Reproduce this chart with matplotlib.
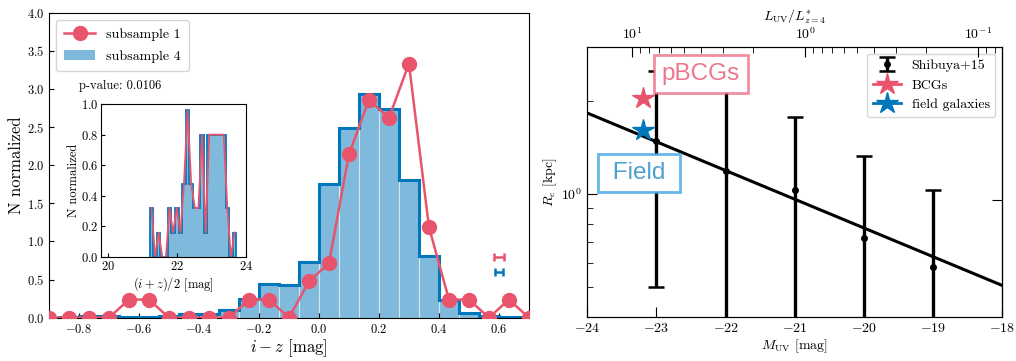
import numpy as np
import matplotlib
matplotlib.use('Agg')
import matplotlib.pyplot as plt
from matplotlib.patches import Patch
from matplotlib.lines import Line2D
from matplotlib.colors import to_rgba
from matplotlib.ticker import NullLocator, NullFormatter, MultipleLocator

plt.rcParams['font.family'] = 'serif'
plt.rcParams['font.serif'] = ['cmr10']
plt.rcParams['mathtext.fontset'] = 'cm'
plt.rcParams['axes.formatter.use_mathtext'] = True
plt.rcParams['axes.unicode_minus'] = True

RED = '#E9546D'
BLUE = '#0077BB'

# ---------------- data: left panel ----------------
# i-z histogram bin edges (bin width 1/15 mag)
iz_edges = np.arange(-14, 12) / 15.0
sub4_vals = [0.0, 0.005, 0.025, 0.02, 0.012, 0.012, 0.02, 0.05, 0.05, 0.10,
             0.25, 0.44, 0.43, 0.73, 1.76, 2.49, 2.93, 2.74, 1.81, 0.81,
             0.23, 0.06, 0.02, 0.01, 0.005]
sub1_vals = [0, 0, 0, 0, 0.238, 0.238, 0, 0, 0, 0,
             0.238, 0.238, 0, 0.476, 0.714, 2.143, 2.857, 2.619, 3.333, 1.190,
             0.238, 0.238, 0, 0.238, 0]
pvalue_text = 'p-value: 0.0106'
err_x = 0.6
err_y_sub1 = 0.8
err_y_sub4 = 0.6
err_dx_sub1 = 0.016
err_dx_sub4 = 0.014

# inset: (i+z)/2 histogram
mag_edges = 21.2 + 0.105 * np.arange(25)
inset_vals = [0.32, 0, 0.16, 0, 0, 0.32, 0.16, 0.32, 0.16, 0.48,
              0.96, 0.48, 0.32, 0.32, 0.8, 0.16, 0.8, 0.8, 0.8, 0.8,
              0.8, 0.32, 0, 0.16]

# ---------------- data: right panel ----------------
M_uv = [-23, -22, -21, -20, -19]
Re_kpc = [1.48, 1.19, 1.03, 0.72, 0.58]
Re_lo = [0.50, 0.30, 0.30, 0.30, 0.30]
Re_hi = [2.50, 2.45, 1.77, 1.33, 1.03]
fit_M = [-24, -18]
fit_Re = [1.83, 0.506]
bcg_M, bcg_Re = [-23.2], [2.04]
field_M, field_Re = [-23.2], [1.61]
M_star = -20.85

# ---------------- figure ----------------
fig = plt.figure(figsize=(10.16, 3.61), dpi=100)

ax = fig.add_axes([0.0482, 0.1199, 0.4724, 0.8449])
centers = 0.5 * (iz_edges[:-1] + iz_edges[1:])
widths = np.diff(iz_edges)
ax.bar(centers, sub4_vals, width=widths, color=BLUE, alpha=0.5,
       edgecolor=(1, 1, 1, 0.35), linewidth=0.8, zorder=1)
ax.stairs(sub4_vals, iz_edges, color=BLUE, linewidth=2.2, zorder=2)
ax.plot(centers, sub1_vals, '-o', color=RED, ms=10, lw=1.8, zorder=3)
ax.errorbar([err_x], [err_y_sub1], xerr=[err_dx_sub1], color=RED, lw=1.8,
            capsize=3, capthick=1.8, fmt='none')
ax.errorbar([err_x], [err_y_sub4], xerr=[err_dx_sub4], color=BLUE, lw=1.8,
            capsize=3, capthick=1.8, fmt='none')
ax.set_xlim(-0.9, 0.7)
ax.set_ylim(0, 4.0)
ax.xaxis.set_major_locator(MultipleLocator(0.2))
ax.yaxis.set_major_locator(MultipleLocator(0.5))
ax.tick_params(direction='in', labelsize=9, length=3.5)
ax.set_xlabel(r'$i - z$ [mag]', fontsize=12, labelpad=1)
ax.set_ylabel('N normalized', fontsize=12, labelpad=2)
ax.text(-0.8, 3.0, pvalue_text, fontsize=9)
handles = [Line2D([], [], color=RED, marker='o', ms=10, lw=1.8),
           Patch(facecolor=BLUE, alpha=0.5)]
ax.legend(handles, ['subsample 1', 'subsample 4'], loc='upper left',
          fontsize=10, handlelength=2.2, borderpad=0.6, labelspacing=0.7)

# inset
axi = fig.add_axes([0.0999, 0.288, 0.1422, 0.4238])
mc = 0.5 * (mag_edges[:-1] + mag_edges[1:])
axi.bar(mc, inset_vals, width=np.diff(mag_edges), color=BLUE, alpha=0.5,
        linewidth=0)
axi.stairs(inset_vals, mag_edges, color=BLUE, linewidth=1.3)
axi.plot(mc, inset_vals, color=RED, lw=1.3)
axi.set_xlim(19.8, 24.0)
axi.set_ylim(0, 1.0)
axi.set_xticks([20, 22, 24])
axi.set_yticks([0, 0.2, 0.4, 0.6, 0.8, 1.0])
axi.tick_params(direction='in', labelsize=9, length=3, pad=2)
axi.set_xlabel(r'$(i+z)/2$ [mag]', fontsize=9, labelpad=2)
axi.set_ylabel('N normalized', fontsize=9, labelpad=1)

# ---------------- right panel ----------------
ax2 = fig.add_axes([0.578, 0.1219, 0.4085, 0.7487])
ax2.set_yscale('log')
ax2.plot(fit_M, fit_Re, color='black', lw=2.2, zorder=2)
yerr = [np.array(Re_kpc) - np.array(Re_lo), np.array(Re_hi) - np.array(Re_kpc)]
eb = ax2.errorbar(M_uv, Re_kpc, yerr=yerr, fmt='o', ms=4, color='black',
                  lw=2.4, capsize=5.5, capthick=1.8, zorder=3)
st1, = ax2.plot(bcg_M, bcg_Re, marker='*', ms=16, color=RED, lw=2, zorder=5)
st2, = ax2.plot(field_M, field_Re, marker='*', ms=16, color=BLUE, lw=2, zorder=5)
ax2.set_xlim(-24, -18)
ax2.set_ylim(0.4, 3.0)
ax2.xaxis.set_major_locator(MultipleLocator(1))
ax2.yaxis.set_minor_formatter(NullFormatter())
ax2.tick_params(which='both', direction='in', labelsize=10)
ax2.tick_params(which='major', length=7)
ax2.tick_params(which='minor', length=4)
ax2.set_xlabel(r'$M_{\rm UV}$ [mag]', fontsize=10, labelpad=2)
ax2.set_ylabel(r'$R_e$ [kpc]', fontsize=10, labelpad=2)
ax2.legend([eb, st1, st2], ['Shibuya+15', 'BCGs', 'field galaxies'],
           loc='upper right', fontsize=10, handlelength=2.0)

ax2.text(-22.36, 2.44, 'pBCGs', ha='center', va='center', fontsize=17.5,
         family='Liberation Sans', color=to_rgba(RED, 0.8), zorder=6,
         bbox=dict(boxstyle='square,pad=0.33', fc='white',
                   ec=to_rgba(RED, 0.65), lw=2))
ax2.text(-23.25, 1.167, ' Field ', ha='center', va='center', fontsize=17.5,
         family='Liberation Sans', color=to_rgba(BLUE, 0.7), zorder=6,
         bbox=dict(boxstyle='square,pad=0.33', fc='white',
                   ec=to_rgba('#3FA4E4', 0.8), lw=2))

# top axis: L_UV / L*
def lum(m):
    return 10 ** (-0.4 * (np.asarray(m, dtype=float) - M_star))

axt = ax2.twiny()
axt.set_xscale('log')
axt.set_xlim(lum(-24), lum(-18))
axt.xaxis.set_minor_formatter(NullFormatter())
axt.tick_params(which='both', direction='in', labelsize=10)
axt.tick_params(which='major', length=7)
axt.tick_params(which='minor', length=4)
axt.set_xlabel(r'$L_{\rm UV}/L^{*}_{z=4}$', fontsize=10, labelpad=4)

# right axis: single tick
axr = ax2.secondary_yaxis('right')
axr.set_yticks([0.96])
axr.set_yticklabels([''])
axr.yaxis.set_minor_locator(NullLocator())
axr.tick_params(direction='in', length=7)

fig.savefig('out.png', dpi=100)
